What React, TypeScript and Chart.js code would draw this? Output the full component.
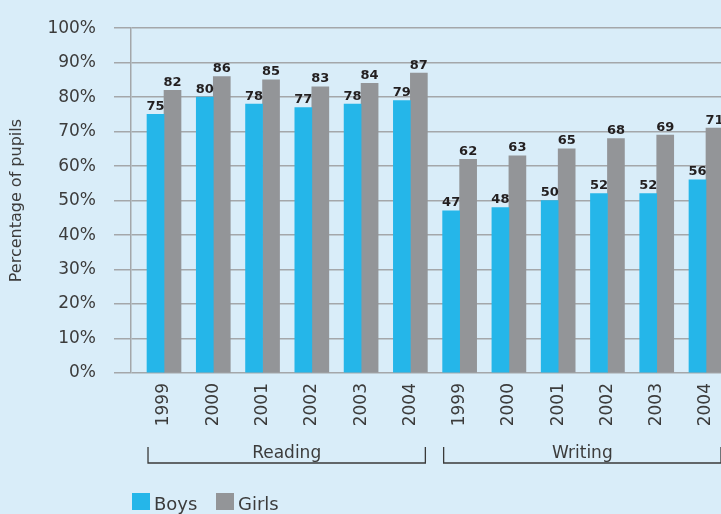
import React, { useEffect, useRef } from 'react';
import { Chart, registerables } from 'chart.js';

Chart.register(...registerables);

const years = ['1999', '2000', '2001', '2002', '2003', '2004', '1999', '2000', '2001', '2002', '2003', '2004'];
const groupNames = ['Reading', 'Writing'];
const groupStarts = [0, 6];
const groupEnds = [5, 11];
const boys = [75, 80, 78, 77, 78, 79, 47, 48, 50, 52, 52, 56];
const girls = [82, 86, 85, 83, 84, 87, 62, 63, 65, 68, 69, 71];
const seriesNames = ['Boys', 'Girls'];
const seriesColors = ['#25b6e9', '#939598'];
const yTitle = 'Percentage of pupils';

const BG = '#d9edf9';
const GRID = '#a4a7aa';
const TEXT = '#3c3c3c';
const FONT = '"DejaVu Sans", "Liberation Sans", sans-serif';
const WEIGHT = 'normal';

const W = 760;
const H = 514;

const bgPlugin = {
  id: 'bg',
  beforeDraw(chart: any) {
    const ctx = chart.ctx;
    ctx.save();
    ctx.fillStyle = BG;
    ctx.fillRect(0, 0, chart.width, chart.height);
    ctx.restore();
  },
};

const valueLabelPlugin = {
  id: 'valueLabels',
  afterDatasetsDraw(chart: any) {
    const ctx = chart.ctx;
    ctx.save();
    ctx.font = `bold 13px ${FONT}`;
    ctx.fillStyle = '#231f20';
    ctx.textAlign = 'center';
    ctx.textBaseline = 'alphabetic';
    chart.data.datasets.forEach((ds: any, di: number) => {
      const meta = chart.getDatasetMeta(di);
      meta.data.forEach((el: any, i: number) => {
        const v = ds.data[i].y;
        ctx.fillText(String(v), el.x, el.y - 4.5);
      });
    });
    ctx.restore();
  },
};

const groupPlugin = {
  id: 'groups',
  afterDraw(chart: any) {
    const ctx = chart.ctx;
    const xs = chart.scales.x;
    const bottom = chart.chartArea.bottom;
    ctx.save();
    ctx.strokeStyle = '#3a3a3a';
    ctx.lineWidth = 1.3;
    ctx.fillStyle = TEXT;
    ctx.font = `${WEIGHT} 17px ${FONT}`;
    ctx.textAlign = 'center';
    ctx.textBaseline = 'alphabetic';
    groupNames.forEach((name, g) => {
      const l = xs.getPixelForValue(groupStarts[g]) - 16;
      const r = xs.getPixelForValue(groupEnds[g]) + 15;
      const yTop = bottom + 74;
      const yBot = bottom + 90;
      ctx.beginPath();
      ctx.moveTo(l, yTop);
      ctx.lineTo(l, yBot);
      ctx.lineTo(r, yBot);
      ctx.lineTo(r, yTop);
      ctx.stroke();
      ctx.fillText(name, (l + r) / 2, bottom + 85);
    });

    // legend
    ctx.font = `${WEIGHT} 18px ${FONT}`;
    ctx.textAlign = 'left';
    let x = 132;
    const boxY = 493;
    seriesNames.forEach((name, i) => {
      ctx.fillStyle = seriesColors[i];
      ctx.fillRect(x, boxY, 18, 17);
      ctx.fillStyle = TEXT;
      ctx.fillText(name, x + 22, boxY + 17);
      x += 84;
    });
    ctx.restore();
  },
};

export default function App() {
  const ref = useRef<HTMLCanvasElement>(null);

  useEffect(() => {
    if (!ref.current) return;
    const chart = new Chart(ref.current, {
      type: 'bar',
      data: {
        datasets: [
          {
            label: seriesNames[0],
            data: boys.map((v, i) => ({ x: i, y: v })),
            backgroundColor: seriesColors[0],
            barThickness: 17,
          },
          {
            label: seriesNames[1],
            data: girls.map((v, i) => ({ x: i, y: v })),
            backgroundColor: seriesColors[1],
            barThickness: 17,
          },
        ],
      },
      plugins: [bgPlugin, valueLabelPlugin, groupPlugin],
      options: {
        animation: false,
        responsive: false,
        devicePixelRatio: 1,
        events: [],
        layout: { padding: { top: 26, right: 21, bottom: 0, left: 0 } },
        plugins: {
          legend: { display: false },
          tooltip: { enabled: false },
        },
        scales: {
          x: {
            type: 'linear',
            min: -0.67,
            max: 11.67,
            offset: false,
            grid: { display: false, drawTicks: false, tickLength: 0 },
            border: { display: false },
            afterBuildTicks: (scale: any) => {
              scale.ticks = years.map((_, i) => ({ value: i }));
            },
            afterFit: (scale: any) => {
              scale.height = 141;
            },
            ticks: {
              autoSkip: false,
              minRotation: 90,
              maxRotation: 90,
              padding: 10,
              color: TEXT,
              font: { family: FONT, size: 17, weight: WEIGHT as any },
              callback: (v: any) => years[Math.round(Number(v))] ?? '',
            },
          },
          y: {
            min: 0,
            max: 100,
            grid: { color: GRID, lineWidth: 1.5, tickLength: 17, drawTicks: true },
            border: { display: true, color: GRID, width: 1.5 },
            afterFit: (scale: any) => {
              scale.width = 131;
            },
            ticks: {
              stepSize: 10,
              padding: 18,
              color: TEXT,
              font: { family: FONT, size: 17, weight: WEIGHT as any },
              callback: (v: any) => `${v}%`,
            },
            title: {
              display: true,
              text: yTitle,
              color: TEXT,
              padding: { top: 7, bottom: 0 },
              font: { family: FONT, size: 16, weight: WEIGHT as any },
            },
          },
        },
      },
    });
    return () => chart.destroy();
  }, []);

  return (
    <div
      style={{
        position: 'fixed',
        left: 0,
        top: 0,
        width: 721,
        height: 514,
        overflow: 'hidden',
        background: BG,
      }}
    >
      <canvas ref={ref} width={W} height={H} style={{ display: 'block', width: W, height: H }} />
    </div>
  );
}
